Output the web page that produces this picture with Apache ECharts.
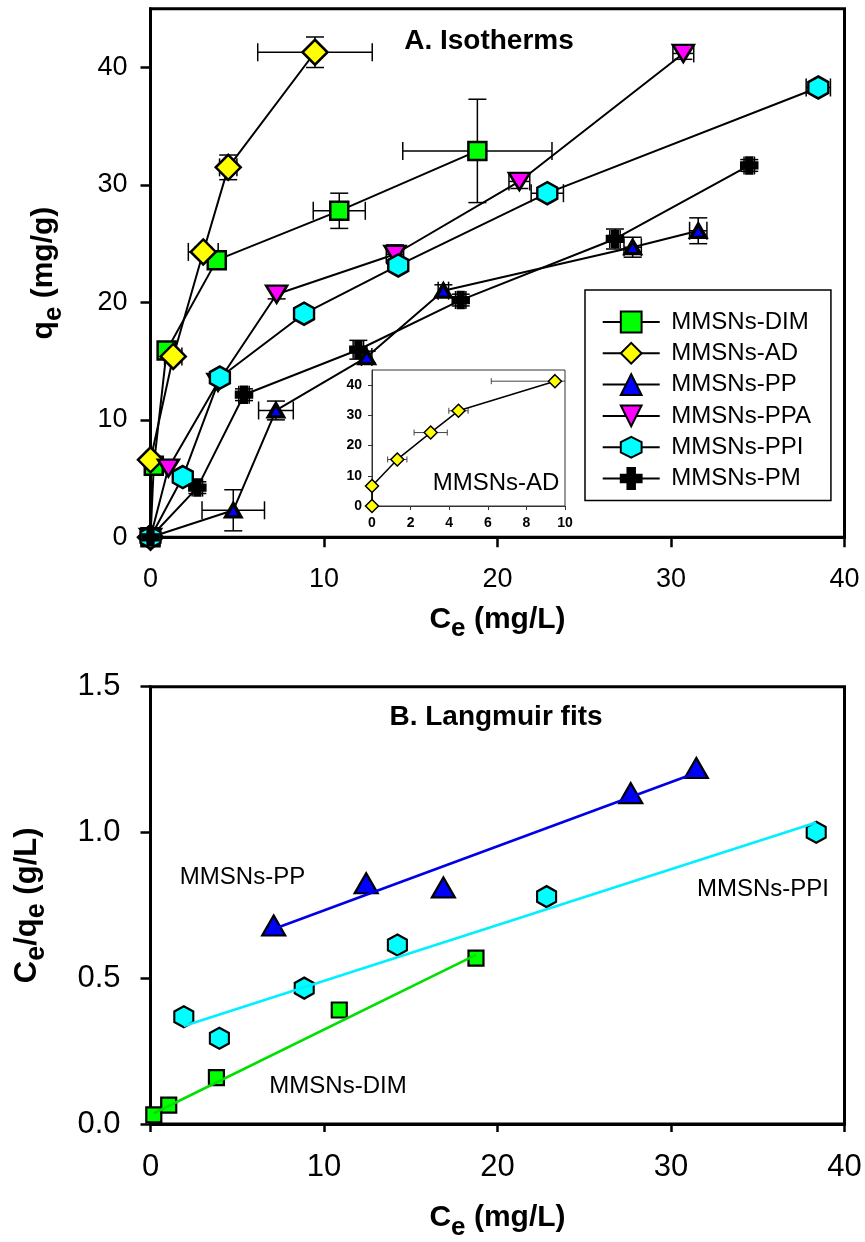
<!DOCTYPE html>
<html><head><meta charset="utf-8">
<script src="https://cdn.jsdelivr.net/npm/echarts@6.0.0/dist/echarts.min.js"></script>
<style>html,body{margin:0;padding:0;background:#fff}#c{width:865px;height:1242px}</style>
</head><body><div id="c"></div><script>
// ---------- Panel A: isotherms (Ce mg/L vs qe mg/g) ----------
const dimX    = [0, 0.19, 0.93, 3.82, 10.88, 18.84];
const dimY    = [0, 6.1, 15.9, 23.6, 27.8, 32.9];
const dimXErr = [0, 0, 0, 0, 1.5, 4.3];
const dimYErr = [0, 0, 0, 0, 1.5, 4.4];

const adX    = [0, 0, 1.31, 3.04, 4.48, 9.48];
const adY    = [0, 6.6, 15.4, 24.3, 31.5, 41.3];
const adXErr = [0, 0, 0.5, 0.86, 0.5, 3.3];
const adYErr = [0, 0, 0, 0.4, 1.05, 1.3];

const ppX    = [0, 4.77, 7.23, 12.46, 16.88, 27.79, 31.57];
const ppY    = [0, 2.3, 10.8, 15.35, 21.0, 24.7, 26.1];
const ppXErr = [0, 1.8, 1.0, 0.3, 0.3, 0.5, 0.5];
const ppYErr = [0, 1.75, 0.8, 0.5, 0.5, 0.85, 1.1];

const ppaX    = [0, 1.03, 3.89, 7.27, 14.09, 21.26, 30.71];
const ppaY    = [0, 5.9, 13.2, 20.7, 24.1, 30.3, 41.2];
const ppaXErr = [0, 0, 0, 0, 0.5, 0.6, 0.6];
const ppaYErr = [0, 0, 0, 0.4, 0.8, 0.6, 0.5];

const ppiX    = [0, 1.86, 4.0, 8.85, 14.28, 22.87, 38.49];
const ppiY    = [0, 5.13, 13.6, 19.04, 23.15, 29.3, 38.3];
const ppiXErr = [0, 0, 0, 0, 0, 0.93, 0.7];
const ppiYErr = [0, 0, 0, 0, 0, 0.4, 0.5];

const pmX    = [0, 2.70, 5.39, 11.98, 17.88, 26.77, 34.51];
const pmY    = [0, 4.23, 12.14, 15.97, 20.2, 25.4, 31.66];
const pmXErr = [0, 0.3, 0.3, 0.3, 0.3, 0.3, 0.3];
const pmYErr = [0, 0.5, 0.5, 0.8, 0.5, 0.85, 0.5];

const seriesNames = ['MMSNs-DIM', 'MMSNs-AD', 'MMSNs-PP', 'MMSNs-PPA', 'MMSNs-PPI', 'MMSNs-PM'];

// axis ticks
const topXTicks = [0, 10, 20, 30, 40];
const topYTicks = [0, 10, 20, 30, 40];
const insetXTicks = [0, 2, 4, 6, 8, 10];
const insetYTicks = [0, 10, 20, 30, 40];
const botXTicks = [0, 10, 20, 30, 40];
const botYTicks = [0, 0.5, 1.0, 1.5];

// ---------- Panel B: Langmuir linearisation (Ce vs Ce/qe) ----------
const bDimX = [0.19, 1.05, 3.8, 10.88, 18.76];
const bDimY = [0.031, 0.065, 0.159, 0.391, 0.569];
const bPpiX = [1.92, 3.97, 8.86, 14.23, 22.83, 38.37];
const bPpiY = [0.368, 0.294, 0.466, 0.614, 0.78, 1.001];
const bPpX  = [7.1, 12.43, 16.88, 27.68, 31.46];
const bPpY  = [0.681, 0.826, 0.811, 1.135, 1.221];

// fitted lines (end points)
const fitDimX = [0.19, 18.76];  const fitDimY = [0.037, 0.58];
const fitPpiX = [1.92, 38.37];  const fitPpiY = [0.336, 1.034];
const fitPpX  = [7.1, 31.46];   const fitPpY  = [0.669, 1.205];

// ---------- helpers ----------
const FF = '"Liberation Sans", Arial, Helvetica, sans-serif';
const pairs = (xs, ys) => xs.map((x, i) => [x, ys[i]]);
const quads = (xs, ys, xe, ye) => xs.map((x, i) => [x, ys[i], xe[i], ye[i]]);

const HEX = 'path://M50,0L93.3,25L93.3,75L50,100L6.7,75L6.7,25Z';
const CROSS = 'path://M32,0L68,0L68,32L100,32L100,68L68,68L68,100L32,100L32,68L0,68L0,32L32,32Z';

function errRender(capHalf, lw, color) {
  return function (params, api) {
    const x = api.value(0), y = api.value(1), xe = api.value(2), ye = api.value(3);
    const cs = params.coordSys;
    const x0 = cs.x, x1 = cs.x + cs.width, y0 = cs.y, y1 = cs.y + cs.height;
    const cl = (v, a, b) => Math.max(a, Math.min(b, v));
    const st = { stroke: color, lineWidth: lw };
    const L = (a, b, c, d) => ({ type: 'line', shape: { x1: a, y1: b, x2: c, y2: d }, style: st });
    const ch = [];
    if (xe > 0) {
      const l = api.coord([x - xe, y]), r = api.coord([x + xe, y]);
      ch.push(L(cl(l[0], x0, x1), l[1], cl(r[0], x0, x1), r[1]));
      if (l[0] >= x0 - 0.5) ch.push(L(l[0], l[1] - capHalf, l[0], l[1] + capHalf));
      if (r[0] <= x1 + 0.5) ch.push(L(r[0], r[1] - capHalf, r[0], r[1] + capHalf));
    }
    if (ye > 0) {
      const t = api.coord([x, y + ye]), b = api.coord([x, y - ye]);
      ch.push(L(t[0], cl(t[1], y0, y1), b[0], cl(b[1], y0, y1)));
      if (t[1] >= y0 - 0.5) ch.push(L(t[0] - capHalf, t[1], t[0] + capHalf, t[1]));
      if (b[1] <= y1 + 0.5) ch.push(L(b[0] - capHalf, b[1], b[0] + capHalf, b[1]));
    }
    return { type: 'group', children: ch };
  };
}
function errSeries(name, xs, ys, xe, ye, gi, capHalf, lw, color) {
  return {
    name: name, type: 'custom', coordinateSystem: 'cartesian2d',
    xAxisIndex: gi, yAxisIndex: gi, silent: true, z: 1,
    encode: { x: 0, y: 1 },
    renderItem: errRender(capHalf, lw, color),
    data: quads(xs, ys, xe, ye)
  };
}
function isoSeries(name, xs, ys, symbol, size, fill, rot, bw) {
  return {
    name: name, type: 'line', xAxisIndex: 0, yAxisIndex: 0, z: 3,
    data: pairs(xs, ys), symbol: symbol, symbolSize: size, symbolRotate: rot || 0,
    showSymbol: true, showAllSymbol: true,
    itemStyle: { color: fill, borderColor: '#000', borderWidth: bw || 2.5 },
    lineStyle: { color: '#000', width: 2 },
    emphasis: { disabled: true }
  };
}
function scatSeries(name, xs, ys, symbol, size, fill) {
  return {
    name: name, type: 'scatter', xAxisIndex: 1, yAxisIndex: 1, z: 3,
    data: pairs(xs, ys), symbol: symbol, symbolSize: size,
    itemStyle: { color: fill, borderColor: '#000', borderWidth: 2.2, opacity: 1 },
    emphasis: { disabled: true }
  };
}
function fitSeries(name, xs, ys, color) {
  return {
    name: name, type: 'line', xAxisIndex: 1, yAxisIndex: 1, z: 4,
    data: pairs(xs, ys), symbol: 'none', showSymbol: false,
    lineStyle: { color: color, width: 2.6 }, emphasis: { disabled: true }
  };
}

const mainAxisLine = { show: true, onZero: false, lineStyle: { color: '#000', width: 3 } };
const subRich = (m, s, pad) => ({
  m: { fontSize: m, fontWeight: 'bold', fontFamily: FF, color: '#000' },
  s: { fontSize: s, fontWeight: 'bold', fontFamily: FF, color: '#000', padding: [pad, 0, 0, 0] }
});

const option = {
  animation: false,
  backgroundColor: '#fff',
  grid: [
    { left: 150.5, top: 8.8, width: 694, height: 528.5, show: true, borderColor: '#000', borderWidth: 3, backgroundColor: 'transparent', outerBoundsMode: 'none', containLabel: false },
    { left: 150.5, top: 686.7, width: 694, height: 437.3, show: true, borderColor: '#000', borderWidth: 3, backgroundColor: 'transparent', outerBoundsMode: 'none', containLabel: false },
    { left: 372, top: 370, width: 193, height: 136, show: true, borderColor: '#333', borderWidth: 1, backgroundColor: '#fff', outerBoundsMode: 'none', containLabel: false, z: 5 }
  ],
  xAxis: [
    {
      gridIndex: 0, type: 'value', min: 0, max: 40, interval: 10,
      axisLine: mainAxisLine,
      axisTick: { show: true, inside: false, length: 10, lineStyle: { color: '#000', width: 2.5 }, customValues: topXTicks },
      axisLabel: { show: true, fontSize: 27, color: '#000', fontFamily: FF, margin: 29, customValues: topXTicks },
      splitLine: { show: false },
      name: '{m|C}{s|e}{m| (mg/L)}', nameLocation: 'middle', nameGap: 59, nameMoveOverlap: false,
      nameTextStyle: { rich: subRich(30, 26, 20) }
    },
    {
      gridIndex: 1, type: 'value', min: 0, max: 40, interval: 10,
      axisLine: mainAxisLine,
      axisTick: { show: true, inside: false, length: 8, lineStyle: { color: '#000', width: 2.5 }, customValues: botXTicks },
      axisLabel: { show: true, fontSize: 31, color: '#000', fontFamily: FF, margin: 28, customValues: botXTicks },
      splitLine: { show: false },
      name: '{m|C}{s|e}{m| (mg/L)}', nameLocation: 'middle', nameGap: 71, nameMoveOverlap: false,
      nameTextStyle: { rich: subRich(30, 26, 20) }
    },
    {
      gridIndex: 2, type: 'value', min: 0, max: 10, interval: 2,
      axisLine: { show: true, onZero: false, lineStyle: { color: '#333', width: 1 } },
      axisTick: { show: true, inside: false, length: 4, lineStyle: { color: '#333', width: 1 }, customValues: insetXTicks },
      axisLabel: { show: true, fontSize: 14, fontWeight: 'bold', color: '#000', fontFamily: FF, margin: 10, customValues: insetXTicks },
      splitLine: { show: false }, z: 6
    }
  ],
  yAxis: [
    {
      gridIndex: 0, type: 'value', min: 0, max: 45, interval: 10,
      axisLine: mainAxisLine,
      axisTick: { show: true, inside: false, length: 10, lineStyle: { color: '#000', width: 2.5 }, customValues: topYTicks },
      axisLabel: { show: true, fontSize: 27, color: '#000', fontFamily: FF, margin: 23, customValues: topYTicks },
      splitLine: { show: false },
      name: '{m|q}{s|e}{m| (mg/g)}', nameLocation: 'middle', nameRotate: 90, nameGap: 84, nameMoveOverlap: false,
      nameTextStyle: { rich: subRich(30, 26, 20) }
    },
    {
      gridIndex: 1, type: 'value', min: 0, max: 1.5, interval: 0.5,
      axisLine: mainAxisLine,
      axisTick: { show: true, inside: false, length: 10, lineStyle: { color: '#000', width: 2.5 }, customValues: botYTicks },
      axisLabel: { show: true, fontSize: 31, color: '#000', fontFamily: FF, margin: 30, customValues: botYTicks, formatter: v => Number(v).toFixed(1) },
      splitLine: { show: false },
      name: '{m|C}{s|e}{m|/q}{s|e}{m| (g/L)}', nameLocation: 'middle', nameRotate: 90, nameGap: 100, nameMoveOverlap: false,
      nameTextStyle: { rich: subRich(31, 27, 20) }
    },
    {
      gridIndex: 2, type: 'value', min: 0, max: 45, interval: 10,
      axisLine: { show: true, onZero: false, lineStyle: { color: '#333', width: 1 } },
      axisTick: { show: true, inside: false, length: 4, lineStyle: { color: '#333', width: 1 }, customValues: insetYTicks },
      axisLabel: { show: true, fontSize: 14, fontWeight: 'bold', color: '#000', fontFamily: FF, margin: 10, customValues: insetYTicks },
      splitLine: { show: false }, z: 6
    }
  ],
  legend: {
    show: true, orient: 'vertical', left: 585, top: 290,
    data: seriesNames, selectedMode: false,
    itemWidth: 57, itemHeight: 26, itemGap: 7.3,
    padding: [20, 20, 10, 16.7],
    borderColor: '#000', borderWidth: 1.5, backgroundColor: '#fff',
    textStyle: { fontSize: 24, color: '#000', fontFamily: FF },
    formatter: n => ' ' + n, z: 10
  },
  graphic: [
    { type: 'text', x: 489, y: 41, z: 20, style: { text: 'A. Isotherms', font: 'bold 28px ' + FF, fill: '#000', align: 'center', verticalAlign: 'middle' } },
    { type: 'text', x: 496, y: 717, z: 20, style: { text: 'B. Langmuir fits', font: 'bold 28px ' + FF, fill: '#000', align: 'center', verticalAlign: 'middle' } },
    { type: 'text', x: 496, y: 483, z: 20, style: { text: 'MMSNs-AD', font: '24px ' + FF, fill: '#000', align: 'center', verticalAlign: 'middle' } },
    { type: 'text', x: 242.5, y: 877, z: 20, style: { text: 'MMSNs-PP', font: '24px ' + FF, fill: '#000', align: 'center', verticalAlign: 'middle' } },
    { type: 'text', x: 763, y: 889, z: 20, style: { text: 'MMSNs-PPI', font: '24px ' + FF, fill: '#000', align: 'center', verticalAlign: 'middle' } },
    { type: 'text', x: 338, y: 1086, z: 20, style: { text: 'MMSNs-DIM', font: '24px ' + FF, fill: '#000', align: 'center', verticalAlign: 'middle' } }
  ],
  series: [
    errSeries('err-DIM', dimX, dimY, dimXErr, dimYErr, 0, 9, 1.5, '#000'),
    errSeries('err-AD', adX, adY, adXErr, adYErr, 0, 9, 1.5, '#000'),
    errSeries('err-PP', ppX, ppY, ppXErr, ppYErr, 0, 9, 1.5, '#000'),
    errSeries('err-PPA', ppaX, ppaY, ppaXErr, ppaYErr, 0, 9, 1.5, '#000'),
    errSeries('err-PPI', ppiX, ppiY, ppiXErr, ppiYErr, 0, 9, 1.5, '#000'),
    errSeries('err-PM', pmX, pmY, pmXErr, pmYErr, 0, 9, 1.5, '#000'),
    isoSeries('MMSNs-DIM', dimX, dimY, 'rect', 18, '#00ff00'),
    isoSeries('MMSNs-AD', adX, adY, 'diamond', 25, '#ffff00'),
    isoSeries('MMSNs-PP', ppX, ppY, 'triangle', [15, 13], '#0000ff', 0, 3.5),
    isoSeries('MMSNs-PPA', ppaX, ppaY, 'triangle', [21, 17], '#ff00ff', 180),
    isoSeries('MMSNs-PPI', ppiX, ppiY, HEX, [20, 22], '#00ffff'),
    isoSeries('MMSNs-PM', pmX, pmY, CROSS, 16, '#000000'),
    // inset
    Object.assign(errSeries('inset-err-AD', adX, adY, adXErr, adYErr, 2, 3, 1, '#444'), { z: 6 }),
    {
      name: 'inset-AD', type: 'line', xAxisIndex: 2, yAxisIndex: 2, z: 7,
      data: pairs(adX, adY), symbol: 'diamond', symbolSize: 13, showSymbol: true,
      itemStyle: { color: '#ffff00', borderColor: '#000', borderWidth: 1.5 },
      lineStyle: { color: '#000', width: 1.5 }, emphasis: { disabled: true }
    },
    // panel B
    scatSeries('b-DIM', bDimX, bDimY, 'rect', 15, '#00ff00'),
    scatSeries('b-PPI', bPpiX, bPpiY, HEX, [19, 21], '#00ffff'),
    scatSeries('b-PP', bPpX, bPpY, 'triangle', [23, 20], '#0000ff'),
    fitSeries('fit-DIM', fitDimX, fitDimY, '#00e000'),
    fitSeries('fit-PPI', fitPpiX, fitPpiY, '#00f0ff'),
    fitSeries('fit-PP', fitPpX, fitPpY, '#0000e6')
  ]
};
const chart = echarts.init(document.getElementById('c'), null, { renderer: 'canvas' });
chart.setOption(option);
</script></body></html>
